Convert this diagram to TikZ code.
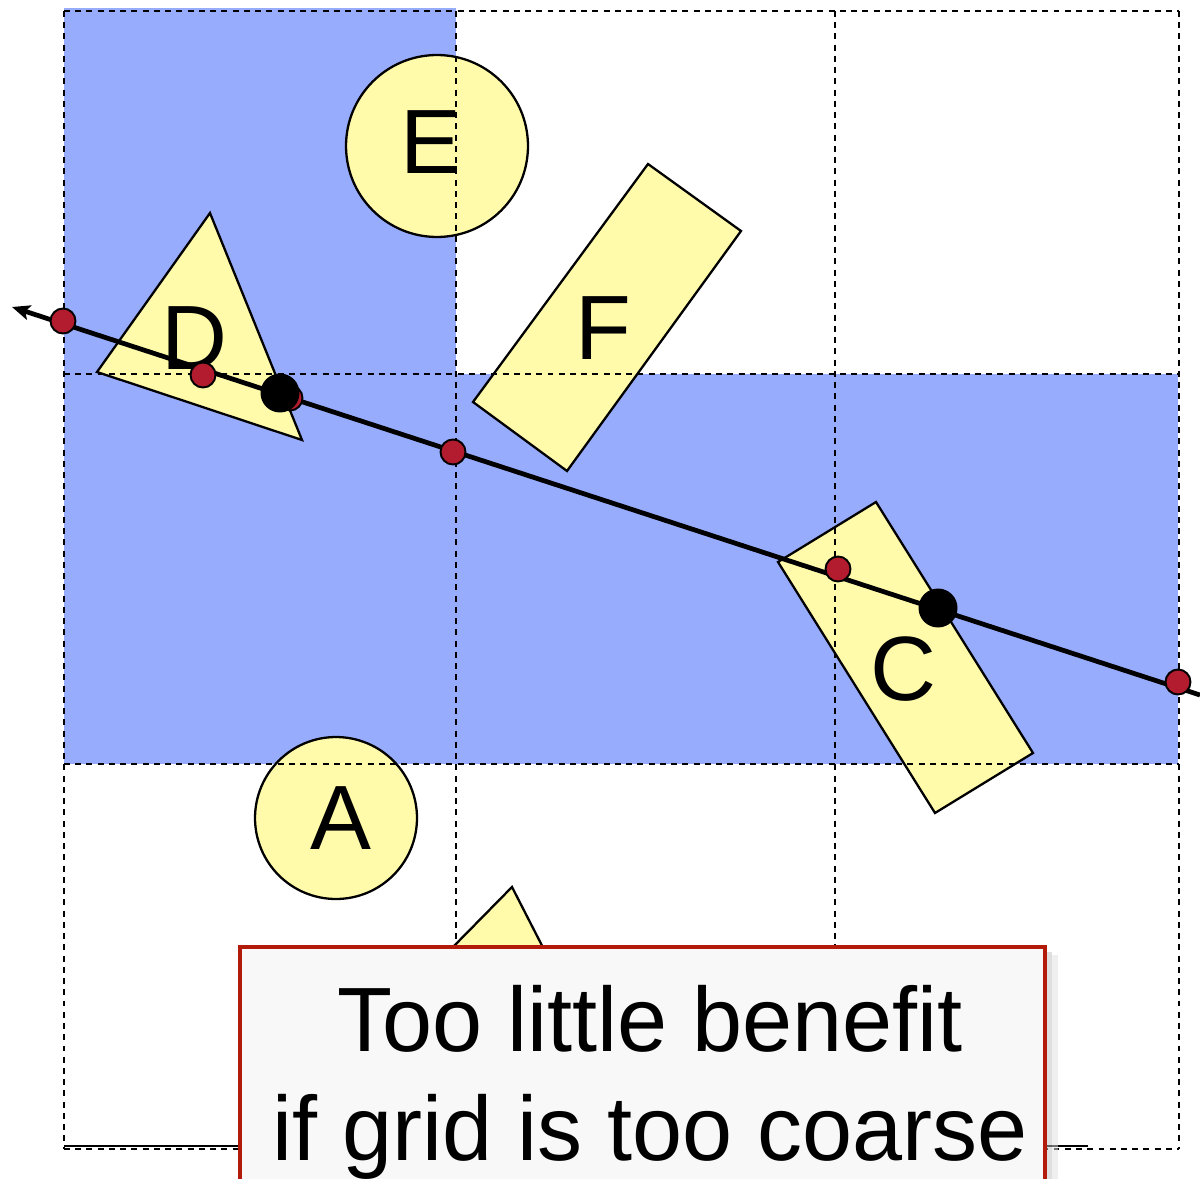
\documentclass[tikz,border=0pt]{standalone}
\usepackage{fontspec}
\setmainfont{Liberation Sans}
\usetikzlibrary{arrows.meta}
\definecolor{cellblue}{RGB}{151,172,253}
\definecolor{shapeyellow}{RGB}{255,251,170}
\definecolor{dotred}{RGB}{178,28,46}
\definecolor{boxred}{RGB}{178,26,10}
\definecolor{boxfill}{RGB}{248,248,248}
\tikzset{
  shapefill/.style={draw=black, line width=1.3pt, fill=shapeyellow, line join=miter},
  gridline/.style={draw=black, line width=1.4pt, dash pattern=on 3.4pt off 3pt},
  lbl/.style={inner sep=0pt, font=\fontsize{52}{60}\selectfont},
  circshape/.style={circle, shapefill, inner sep=0pt, font=\fontsize{52}{60}\selectfont},
  reddot/.style={circle, draw=black, line width=1.1pt, fill=dotred, minimum size=0.5cm, inner sep=0pt},
  blackdot/.style={circle, fill=black, minimum size=0.78cm, inner sep=0pt},
  bigtext/.style={anchor=base, inner sep=0pt, font=\fontsize{52}{60}\selectfont, xscale=0.985}
}
\begin{document}
\begin{tikzpicture}[x=0.02cm, y=-0.02cm]
\useasboundingbox (0,0) rectangle (1200,1179);
% blue cells
\fill[cellblue] (64,8) rectangle (456,374);
\fill[cellblue] (64,374) rectangle (1178,764);
% yellow shapes
\node[circshape, minimum size=3.64cm] (E) at (437,146) {};
\node[circshape, minimum size=3.24cm] (A) at (336,818) {};
\path[shapefill] (210,213) -- (97,372) -- (302,440) -- cycle;
\path[shapefill] (648,164) -- (741,231) -- (567,471) -- (473,402) -- cycle;
\path[shapefill] (876,502) -- (1033,753) -- (935,813) -- (778,562) -- cycle;
\path[shapefill] (512,887) -- (391,1010) -- (575,1010) -- cycle;
% labels
\node[lbl] (Elbl) at (431,142) {E};
\node[lbl] (Albl) at (341,818) {A};
\node[lbl] (Dlbl) at (194,338) {D};
\node[lbl] (Flbl) at (603,328) {F};
\node[lbl] (Clbl) at (903,669) {C};
% grid
\draw[gridline] (64,11) -- (1179,11);
\draw[gridline] (64,374) -- (1179,374);
\draw[gridline] (64,764) -- (1179,764);
\draw[gridline] (64,1149) -- (1179,1149);
\draw[black, line width=0.9pt] (64,1146) -- (1088,1146);
\draw[gridline] (64,11) -- (64,1149);
\draw[gridline] (456,11) -- (456,1149);
\draw[gridline] (835,11) -- (835,1149);
\draw[gridline] (1179,11) -- (1179,1149);
% line
\coordinate (rightend) at (1200,695);
\coordinate (leftend) at (12,307);
\draw[line width=2.7pt, -{Stealth[length=0.36cm, width=0.3cm, inset=0.08cm]}] (rightend) -- (leftend);
% red dots
\node[reddot] (r1) at (63,321) {};
\node[reddot] (r2) at (203,375) {};
\node[reddot] (r3) at (290,398) {};
\node[reddot] (r4) at (453,452) {};
\node[reddot] (r5) at (838,569) {};
\node[reddot] (r6) at (1178,682) {};
% black dots
\node[blackdot] (b1) at (280,393) {};
\node[blackdot] (b2) at (938,608) {};
% text box
\fill[black!25, opacity=0.5] (1045,952) rectangle (1052,1190);
\fill[black!12, opacity=0.5] (1052,955) rectangle (1058,1190);
\draw[boxred, line width=2.4pt, fill=boxfill] (240,947) rectangle (1045,1200);
\node[bigtext] (t1) at (650,1051) {Too little benefit};
\node[bigtext] (t2) at (650,1160) {if grid is too coarse};
\end{tikzpicture}
\end{document}
